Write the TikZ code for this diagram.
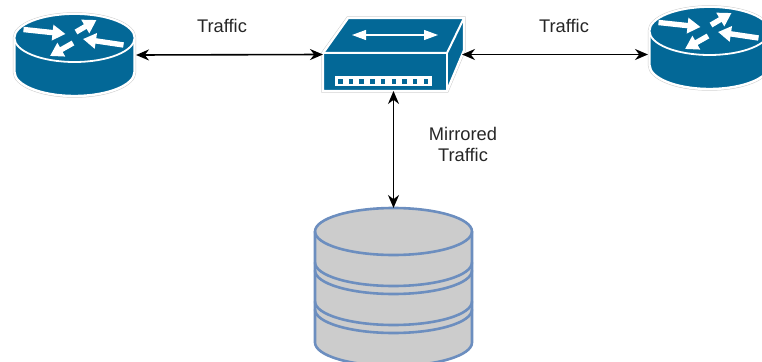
\documentclass[tikz,border=0pt]{standalone}
\usepackage{fontspec}
\setmainfont{Liberation Sans}
\usetikzlibrary{arrows.meta}

\definecolor{ciscoblue}{HTML}{036897}
\definecolor{diskfill}{HTML}{CCCCCC}
\definecolor{diskline}{HTML}{6C8EBF}

\tikzset{
    devicenode/.style={inner sep=0, outer sep=0},
    traffic/.style={line width=1.6pt, draw=black, {Stealth[length=13pt,width=11pt]}-{Stealth[length=13pt,width=11pt]}},
    whitearrow/.style={draw=white, line width=5.4pt, -{Triangle[length=13pt,width=15pt]}},
    caption/.style={font=\fontsize{18.3}{21}\selectfont, text=black!85, align=center},
    pics/routericon/.style={code={
        % Halo and body
        \path[draw=black!20, line width=3.4pt] (-60,-17) arc[start angle=180, end angle=360, x radius=60, y radius=24]
            -- (60,17) arc[start angle=0, end angle=180, x radius=60, y radius=24] -- cycle;
        \path[fill=ciscoblue, draw=white, line width=2.4pt] (-60,-17) arc[start angle=180, end angle=360, x radius=60, y radius=24]
            -- (60,17) arc[start angle=0, end angle=180, x radius=60, y radius=24] -- cycle;
        \draw[white, line width=1.8pt, fill=ciscoblue] (0,-17) ellipse[x radius=60, y radius=24];
        % Arrows on the lid
        \draw[whitearrow] (-51,-25.5) -- (-9,-21);
        \draw[whitearrow] (1.5,-23) -- (22,-35);
        \draw[whitearrow] (49,-10) -- (8.5,-16);
        \draw[whitearrow] (-1.5,-12) -- (-24.5,1);
    }},
    pics/switchicon/.style={code={
        \path[draw=black!20, line width=3.4pt] (-70.5,-1.5) -- (-45.5,-36.5) -- (70.5,-36.5) -- (70.5,-4) -- (53.5,36.5) -- (-70.5,36.5) -- cycle;
        \path[fill=ciscoblue, draw=white, line width=2.4pt] (-70.5,-1.5) -- (-45.5,-36.5) -- (70.5,-36.5) -- (70.5,-4) -- (53.5,36.5) -- (-70.5,36.5) -- cycle;
        \draw[white, line width=2pt] (-70.5,-1.5) -- (53.5,-1.5) -- (70.5,-36.5);
        \draw[white, line width=2pt] (53.5,-1.5) -- (53.5,36.5);
        % Arrow on the lid
        \draw[white, line width=1.2pt, {Triangle[length=14pt,width=10pt]}-{Triangle[length=14pt,width=10pt]}] (-41.5,-19.5) -- (44.5,-19.5);
        % Port strip
        \fill[white] (-58.5,21.5) rectangle (38.5,31.5);
        \foreach \x in {0,...,8}
            \fill[ciscoblue] (-55.5+10.7*\x,24.5) rectangle ++(4.5,4.5);
    }},
    pics/diskicon/.style={code={
        \draw[diskline, fill=diskfill, line width=2.6pt] (-78.5,-55) -- (-78.5,56) arc[start angle=180, end angle=0, x radius=78.5, y radius=23.5]
            -- (78.5,-55) arc[start angle=0, end angle=-180, x radius=78.5, y radius=23.5] -- cycle;
        \draw[diskline, line width=2.6pt] (-78.5,-55) arc[start angle=180, end angle=0, x radius=78.5, y radius=23.5];
        % Platter edges
        \foreach \y in {-24,-16,15,23}
            \draw[diskline, line width=2.6pt] (-78.5,\y) arc[start angle=180, end angle=0, x radius=78.5, y radius=23.5];
    }},
}

\begin{document}
\begin{tikzpicture}[x=1pt, y=-1pt]

    \clip (0, 0) rectangle (762, 361);

    % Devices
    \node[devicenode, minimum width=123, minimum height=84] (routerA) at (74.5, 55) {};
    \node[devicenode, minimum width=141, minimum height=73] (switch) at (393.5, 54.5) {};
    \node[devicenode, minimum width=123, minimum height=84] (routerB) at (709.5, 48) {};
    \node[devicenode, minimum width=157, minimum height=157] (disk) at (393.5, 286.5) {};

    \pic at (routerA) {routericon};
    \pic at (switch) {switchicon};
    \pic at (routerB) {routericon};
    \pic at (disk) {diskicon};

    % Links
    \draw[traffic] (routerA.east) -- (switch.west);
    \draw[traffic] ([xshift=-2pt]switch.east) -- (switch.east -| routerB.west);
    \draw[traffic] (switch.south) -- (disk.north);

    % Labels
    \node[caption] (trafficA) at (222, 26) {Traffic};
    \node[caption] (trafficB) at (564, 26) {Traffic};
    \node[caption] (mirrored) at (463, 144.5) {Mirrored\\Traffic};

\end{tikzpicture}
\end{document}
